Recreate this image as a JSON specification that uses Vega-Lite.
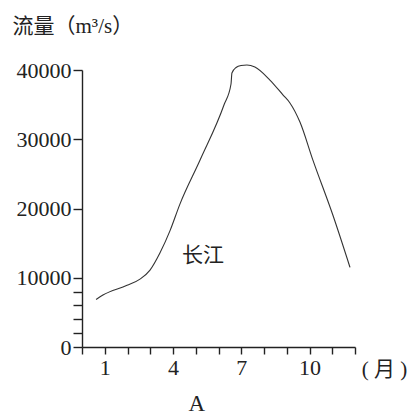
{
  "$schema": "https://vega.github.io/schema/vega-lite/v6.json",
  "width": 273,
  "height": 277,
  "autosize": "none",
  "padding": {"left": 82, "top": 70, "right": 54, "bottom": 69},
  "background": "white",
  "config": {
    "view": {"stroke": null},
    "font": "Liberation Serif, Noto Sans CJK SC",
    "axis": {
      "labelFont": "Liberation Serif, Noto Sans CJK SC",
      "titleFont": "Liberation Serif, Noto Sans CJK SC",
      "labelFontSize": 22,
      "titleFontSize": 21,
      "titleFontWeight": "normal",
      "labelColor": "#222",
      "titleColor": "#222",
      "domainColor": "#222",
      "tickColor": "#222",
      "domainWidth": 1.4,
      "tickWidth": 1.4,
      "grid": false
    }
  },
  "layer": [
    {
      "data": {
        "values": [
          {"month": 0.62, "value": 6870},
          {"month": 0.92, "value": 7500},
          {"month": 1.98, "value": 8900},
          {"month": 2.55, "value": 9800},
          {"month": 2.99, "value": 11100},
          {"month": 3.43, "value": 13600},
          {"month": 3.87, "value": 16800},
          {"month": 4.3, "value": 20600},
          {"month": 5.19, "value": 27000},
          {"month": 6.24, "value": 34940},
          {"month": 6.55, "value": 37980},
          {"month": 6.59, "value": 39570},
          {"month": 6.77, "value": 40360},
          {"month": 6.99, "value": 40650},
          {"month": 7.25, "value": 40720},
          {"month": 7.6, "value": 40430},
          {"month": 8.26, "value": 38550},
          {"month": 8.84, "value": 36380},
          {"month": 9.14, "value": 35240},
          {"month": 9.58, "value": 32480},
          {"month": 10.15, "value": 26990},
          {"month": 11.03, "value": 19020},
          {"month": 11.78, "value": 11500}
        ]
      },
      "mark": {"type": "line", "interpolate": "monotone", "color": "#333", "strokeWidth": 1.1, "clip": false},
      "encoding": {
        "x": {
          "field": "month",
          "type": "quantitative",
          "scale": {"domain": [0, 12], "nice": false, "zero": false},
          "axis": {
            "values": [0, 1, 2, 3, 4, 5, 6, 7, 8, 9, 10, 11, 12],
            "tickCount": 50,
            "format": "d",
            "labelExpr": "datum.value % 3 == 1 && datum.value < 12 ? datum.label : ''",
            "labelOverlap": false,
            "tickSize": 7,
            "labelPadding": 3,
            "labelFlush": false,
            "title": "( 月 )",
            "titleX": 302,
            "titleY": 22.5,
            "titleAlign": "center",
            "titleBaseline": "middle"
          }
        },
        "y": {
          "field": "value",
          "type": "quantitative",
          "scale": {"domain": [0, 40000], "nice": false},
          "axis": {
            "values": [0, 2000, 4000, 6000, 8000, 10000, 20000, 30000, 40000],
            "tickCount": 50,
            "format": "d",
            "labelExpr": "datum.value % 10000 == 0 ? datum.label : ''",
            "labelOverlap": false,
            "tickSize": 9,
            "labelPadding": 2,
            "labelFlush": false,
            "title": "流量（m³/s）",
            "titleAngle": 0,
            "titleAlign": "left",
            "titleBaseline": "middle",
            "titleX": -70,
            "titleY": -44
          }
        }
      }
    },
    {
      "data": {"values": [{"label": "长江", "month": 5.32, "value": 13100}]},
      "mark": {"type": "text", "fontSize": 21, "color": "#222", "font": "Noto Sans CJK SC", "baseline": "middle", "align": "center", "clip": false},
      "encoding": {
        "x": {"field": "month", "type": "quantitative"},
        "y": {"field": "value", "type": "quantitative"},
        "text": {"field": "label"}
      }
    },
    {
      "data": {"values": [{"label": "A", "month": 5.05, "value": -8300}]},
      "mark": {"type": "text", "fontSize": 23, "color": "#222", "font": "Liberation Serif", "baseline": "middle", "align": "center", "clip": false},
      "encoding": {
        "x": {"field": "month", "type": "quantitative"},
        "y": {"field": "value", "type": "quantitative"},
        "text": {"field": "label"}
      }
    }
  ]
}
